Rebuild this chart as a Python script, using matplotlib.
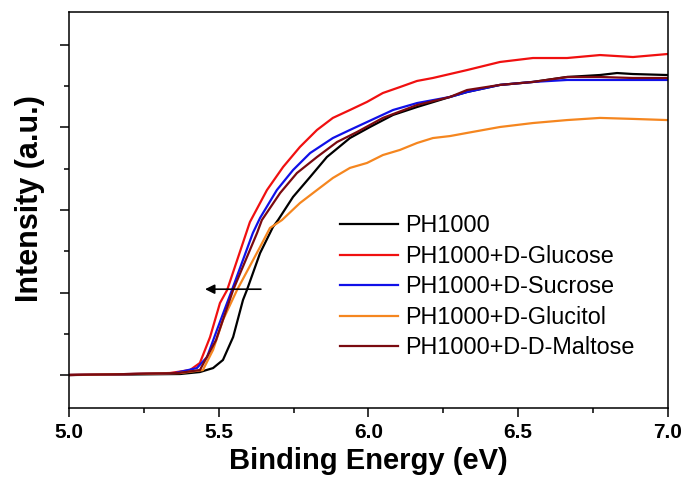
#!/usr/bin/env python3
# -*- coding: UTF-8 -*-
"""
UPS cut-off region of PH1000 films with sugar additives.
"""
from matplotlib import pyplot as plt
from matplotlib.ticker import MultipleLocator, NullFormatter

# values
ph1000_x = [5.000, 5.204, 5.371, 5.437, 5.481, 5.514, 5.548, 5.581, 5.594, 5.638,
            5.681, 5.698, 5.748, 5.805, 5.861, 5.938, 6.005, 6.082, 6.162, 6.272,
            6.329, 6.439, 6.549, 6.663, 6.773, 6.830, 6.883, 6.997]
ph1000_y = [0.000, 0.003, 0.006, 0.018, 0.042, 0.091, 0.230, 0.455, 0.515, 0.739,
            0.897, 0.939, 1.079, 1.200, 1.321, 1.436, 1.503, 1.576, 1.624, 1.685,
            1.715, 1.758, 1.776, 1.806, 1.818, 1.830, 1.824, 1.818]

glucose_x = [5.000, 5.204, 5.337, 5.404, 5.437, 5.471, 5.504, 5.528, 5.604, 5.661,
             5.715, 5.771, 5.828, 5.881, 5.938, 5.995, 6.048, 6.105, 6.162, 6.215,
             6.272, 6.329, 6.439, 6.549, 6.663, 6.773, 6.883, 6.997]
glucose_y = [0.000, 0.006, 0.012, 0.030, 0.073, 0.230, 0.436, 0.515, 0.927, 1.121,
             1.261, 1.382, 1.485, 1.558, 1.606, 1.655, 1.709, 1.745, 1.782, 1.800,
             1.824, 1.848, 1.897, 1.921, 1.921, 1.939, 1.927, 1.945]

sucrose_x = [5.000, 5.204, 5.354, 5.427, 5.461, 5.494, 5.544, 5.614, 5.638, 5.694,
             5.748, 5.805, 5.881, 5.938, 5.995, 6.082, 6.162, 6.272, 6.329, 6.439,
             6.549, 6.663, 6.773, 6.883, 6.997]
sucrose_y = [0.000, 0.006, 0.012, 0.042, 0.109, 0.273, 0.515, 0.861, 0.952, 1.121,
             1.242, 1.345, 1.436, 1.485, 1.533, 1.606, 1.648, 1.685, 1.715, 1.758,
             1.776, 1.788, 1.788, 1.788, 1.788]

glucitol_x = [5.000, 5.204, 5.371, 5.447, 5.481, 5.514, 5.561, 5.638, 5.671, 5.711,
              5.771, 5.828, 5.881, 5.938, 5.995, 6.048, 6.105, 6.162, 6.215, 6.272,
              6.329, 6.439, 6.549, 6.663, 6.773, 6.883, 6.997]
glucitol_y = [0.000, 0.006, 0.012, 0.030, 0.152, 0.333, 0.515, 0.776, 0.891, 0.939,
              1.042, 1.121, 1.194, 1.255, 1.285, 1.333, 1.364, 1.406, 1.436, 1.448,
              1.467, 1.503, 1.527, 1.545, 1.558, 1.552, 1.545]

maltose_x = [5.000, 5.204, 5.364, 5.437, 5.491, 5.548, 5.628, 5.644, 5.705, 5.761,
             5.828, 5.895, 5.962, 6.048, 6.162, 6.272, 6.329, 6.439, 6.549, 6.663,
             6.773, 6.883, 6.997]
maltose_y = [0.000, 0.006, 0.012, 0.030, 0.212, 0.515, 0.861, 0.939, 1.103, 1.224,
             1.321, 1.412, 1.473, 1.558, 1.636, 1.685, 1.727, 1.758, 1.776, 1.806,
             1.806, 1.800, 1.800]

series = [
    ('PH1000', ph1000_x, ph1000_y, '#000000'),
    ('PH1000+D-Glucose', glucose_x, glucose_y, '#f01010'),
    ('PH1000+D-Sucrose', sucrose_x, sucrose_y, '#1010e8'),
    ('PH1000+D-Glucitol', glucitol_x, glucitol_y, '#f5861f'),
    ('PH1000+D-D-Maltose', maltose_x, maltose_y, '#7a0a10'),
]

arrow_start = (5.65, 0.52)
arrow_end = (5.445, 0.52)

plt.rcParams['font.family'] = ['Liberation Sans', 'DejaVu Sans']
plt.rcParams['font.weight'] = 'bold'

fig = plt.figure(figsize=(6.88, 4.87), dpi=100)
ax = fig.add_axes([0.1003, 0.1622, 0.8706, 0.8132])

for name, xs, ys, color in series:
    ax.plot(xs, ys, color=color, lw=1.6, label=name)

ax.annotate('', xy=arrow_end, xytext=arrow_start,
            arrowprops=dict(arrowstyle='-|>', color='black', lw=1.2,
                            mutation_scale=14))

ax.set_xlim(5.0, 7.0)
ax.set_ylim(-0.2, 2.2)
ax.xaxis.set_major_locator(MultipleLocator(0.5))
ax.xaxis.set_minor_locator(MultipleLocator(0.25))
ax.yaxis.set_major_locator(MultipleLocator(0.5))
ax.yaxis.set_minor_locator(MultipleLocator(0.25))
ax.yaxis.set_major_formatter(NullFormatter())

ax.tick_params(which='both', direction='out', width=1.1, top=False, right=False)
ax.tick_params(which='major', length=6.5, labelsize=15, pad=4)
ax.tick_params(which='minor', length=3.5)
for spine in ax.spines.values():
    spine.set_linewidth(1.1)

ax.set_xlabel('Binding Energy (eV)', fontsize=21, fontweight='bold', labelpad=4)
fig.text(30 / 688, 1 - 198.5 / 487, 'Intensity (a.u.)', rotation=90,
         ha='center', va='center', fontsize=22, fontweight='bold')

ax.legend(loc='upper left', bbox_to_anchor=(0.452, 0.489), frameon=False,
          prop={'size': 16.8, 'weight': 'normal'}, handlelength=2.5,
          handletextpad=0.3, labelspacing=0.32, borderpad=0, borderaxespad=0)

fig.savefig('out.png', dpi=100)
